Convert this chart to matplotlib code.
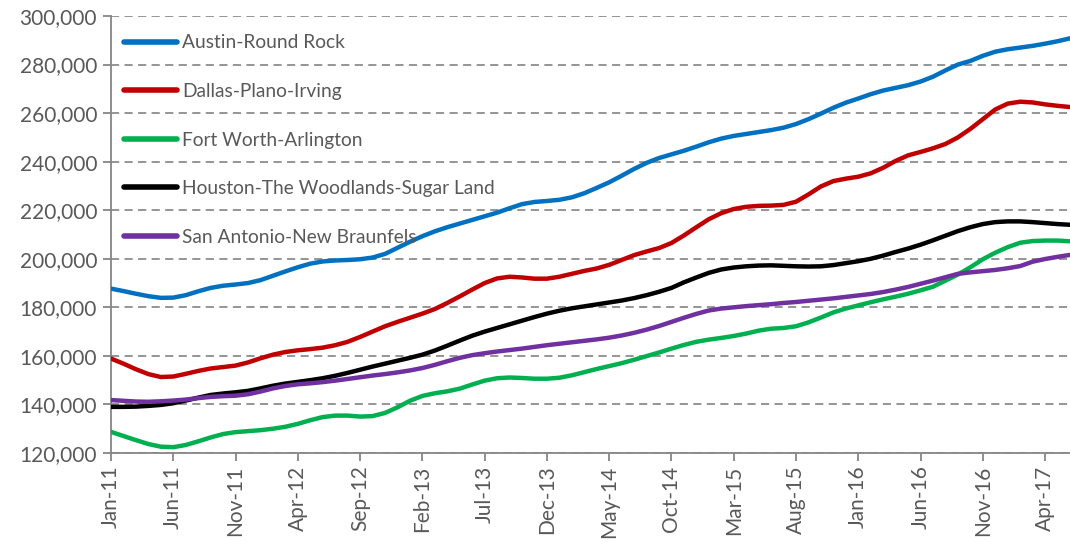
import numpy as np
import pandas as pd
import matplotlib
matplotlib.use("Agg")
import matplotlib.pyplot as plt
from matplotlib.ticker import FuncFormatter

# monthly values Jan-11 .. Jun-17, in dollars/1000
months = pd.date_range("2011-01-01", periods=78, freq="MS")
month_labels = [d.strftime("%b-%y") for d in months]

austin = [187.7, 186.7, 185.6, 184.6, 183.9, 184.0, 185.0, 186.6, 188.0, 188.9,
          189.4, 190.0, 191.2, 193.0, 194.8, 196.5, 198.0, 198.9, 199.3, 199.5,
          199.8, 200.5, 202.0, 204.5, 207.0, 209.3, 211.3, 213.0, 214.5, 216.0,
          217.5, 219.0, 220.8, 222.5, 223.4, 223.8, 224.3, 225.3, 227.0, 229.2,
          231.5, 234.2, 237.0, 239.5, 241.5, 243.0, 244.5, 246.2, 248.0, 249.5,
          250.6, 251.4, 252.2, 253.0, 254.0, 255.5, 257.5, 259.8, 262.2, 264.3,
          266.0, 267.8, 269.3, 270.4, 271.5, 273.0, 275.0, 277.6, 280.0, 281.5,
          283.6, 285.3, 286.3, 287.0, 287.7, 288.6, 289.6, 290.8]

dallas = [158.9, 156.8, 154.5, 152.5, 151.3, 151.5, 152.6, 153.8, 154.8, 155.4,
          156.0, 157.3, 159.0, 160.5, 161.6, 162.3, 162.8, 163.4, 164.4, 165.8,
          167.8, 170.0, 172.2, 174.0, 175.7, 177.4, 179.3, 181.8, 184.5, 187.3,
          190.0, 191.9, 192.6, 192.3, 191.8, 191.8, 192.6, 193.8, 195.0, 196.0,
          197.5, 199.5, 201.5, 203.0, 204.4, 206.5, 209.6, 213.0, 216.3, 218.8,
          220.5, 221.4, 221.8, 221.9, 222.2, 223.5, 226.5, 229.8, 232.0, 233.0,
          233.8, 235.2, 237.5, 240.3, 242.6, 244.0, 245.5, 247.3, 250.0, 253.5,
          257.5, 261.5, 263.9, 264.7, 264.4, 263.6, 263.0, 262.5]

fort_worth = [128.7, 127.0, 125.3, 123.7, 122.6, 122.4, 123.3, 124.8, 126.4, 127.8,
              128.6, 129.0, 129.4, 130.0, 130.8, 132.0, 133.5, 134.8, 135.4, 135.4,
              135.0, 135.2, 136.5, 138.8, 141.5, 143.5, 144.6, 145.4, 146.5, 148.2,
              149.8, 150.8, 151.1, 150.9, 150.6, 150.6, 151.0, 152.0, 153.3, 154.6,
              155.8, 157.0, 158.4, 159.9, 161.4, 163.0, 164.5, 165.8, 166.7, 167.4,
              168.2, 169.2, 170.4, 171.2, 171.5, 172.2, 173.8, 175.8, 177.9, 179.5,
              180.8, 182.1, 183.3, 184.4, 185.6, 187.0, 188.5, 191.0, 193.5, 196.5,
              199.8, 202.5, 204.8, 206.6, 207.3, 207.5, 207.5, 207.2]

houston = [139.0, 139.0, 139.1, 139.4, 139.8, 140.5, 141.6, 142.8, 143.9, 144.5,
           145.0, 145.6, 146.6, 147.7, 148.6, 149.3, 150.0, 150.8, 151.8, 153.0,
           154.3, 155.6, 156.8, 158.0, 159.2, 160.5, 162.2, 164.2, 166.3, 168.3,
           170.0, 171.5, 173.0, 174.5, 176.0, 177.4, 178.6, 179.6, 180.4, 181.2,
           182.0, 182.8, 183.8, 185.0, 186.4, 188.0, 190.3, 192.3, 194.2, 195.6,
           196.4, 196.9, 197.2, 197.3, 197.1, 196.9, 196.8, 196.9, 197.4, 198.2,
           199.0, 200.0, 201.3, 202.8, 204.2, 205.8, 207.6, 209.5, 211.4, 213.0,
           214.3, 215.1, 215.4, 215.4, 215.1, 214.7, 214.3, 214.0]

san_antonio = [141.8, 141.5, 141.2, 141.1, 141.3, 141.6, 142.0, 142.6, 143.1, 143.4,
               143.6, 144.2, 145.3, 146.6, 147.6, 148.3, 148.7, 149.2, 149.8, 150.5,
               151.2, 151.9, 152.5, 153.2, 154.0, 155.0, 156.3, 157.8, 159.2, 160.3,
               161.1, 161.8, 162.4, 163.0, 163.7, 164.4, 165.0, 165.6, 166.2, 166.8,
               167.5, 168.4, 169.5, 170.8, 172.3, 174.0, 175.7, 177.3, 178.7, 179.5,
               180.0, 180.5, 180.9, 181.3, 181.8, 182.2, 182.7, 183.2, 183.7, 184.3,
               184.9, 185.5, 186.3, 187.3, 188.4, 189.7, 191.0, 192.4, 193.8, 194.4,
               194.9, 195.4, 196.1, 197.0, 198.8, 199.9, 200.8, 201.6]

series = [
    ("Austin-Round Rock", austin, "#0070C0"),
    ("Dallas-Plano-Irving", dallas, "#C00000"),
    ("Fort Worth-Arlington", fort_worth, "#00B050"),
    ("Houston-The Woodlands-Sugar Land", houston, "#000000"),
    ("San Antonio-New Braunfels", san_antonio, "#7030A0"),
]

plt.rcParams["font.family"] = ["Lato", "DejaVu Sans"]
txt = "#595959"
axcol = "#868686"

fig = plt.figure(figsize=(10.7, 5.42), dpi=100)
ax = fig.add_axes([111 / 1070, 89 / 542, 959 / 1070, 437 / 542])

x = np.arange(len(months))
for name, vals, col in series:
    ax.plot(x, np.array(vals) * 1000, color=col, lw=3.2, label=name,
            solid_capstyle="round", zorder=3)

ax.set_xlim(0, 77)
ax.set_ylim(120000, 300000)
ax.set_yticks(np.arange(120000, 300001, 20000))
ax.yaxis.set_major_formatter(FuncFormatter(lambda v, p: f"{int(v):,}"))
ax.set_xticks(x[::5])
ax.set_xticklabels(month_labels[::5], rotation=90)

ax.grid(axis="y", color="#8c8c8c", lw=1.3, ls=(0, (4.5, 3)), zorder=1)
for s in ["top", "right"]:
    ax.spines[s].set_visible(False)
for s in ["left", "bottom"]:
    ax.spines[s].set_color(axcol)
    ax.spines[s].set_linewidth(1.3)
ax.tick_params(axis="both", colors=axcol, width=1.3, length=6, labelcolor=txt,
               labelsize=15)
ax.tick_params(axis="x", pad=3)
ax.tick_params(axis="y", pad=4)

leg = ax.legend(loc="upper left", bbox_to_anchor=(0.004, 0.98), frameon=False,
                fontsize=13.8, handlelength=2.75, handletextpad=0.25,
                labelspacing=1.65, borderpad=0.2, borderaxespad=0.3)
for t in leg.get_texts():
    t.set_color(txt)
for h in leg.get_lines():
    h.set_linewidth(4)

fig.savefig("out.png", dpi=100)
